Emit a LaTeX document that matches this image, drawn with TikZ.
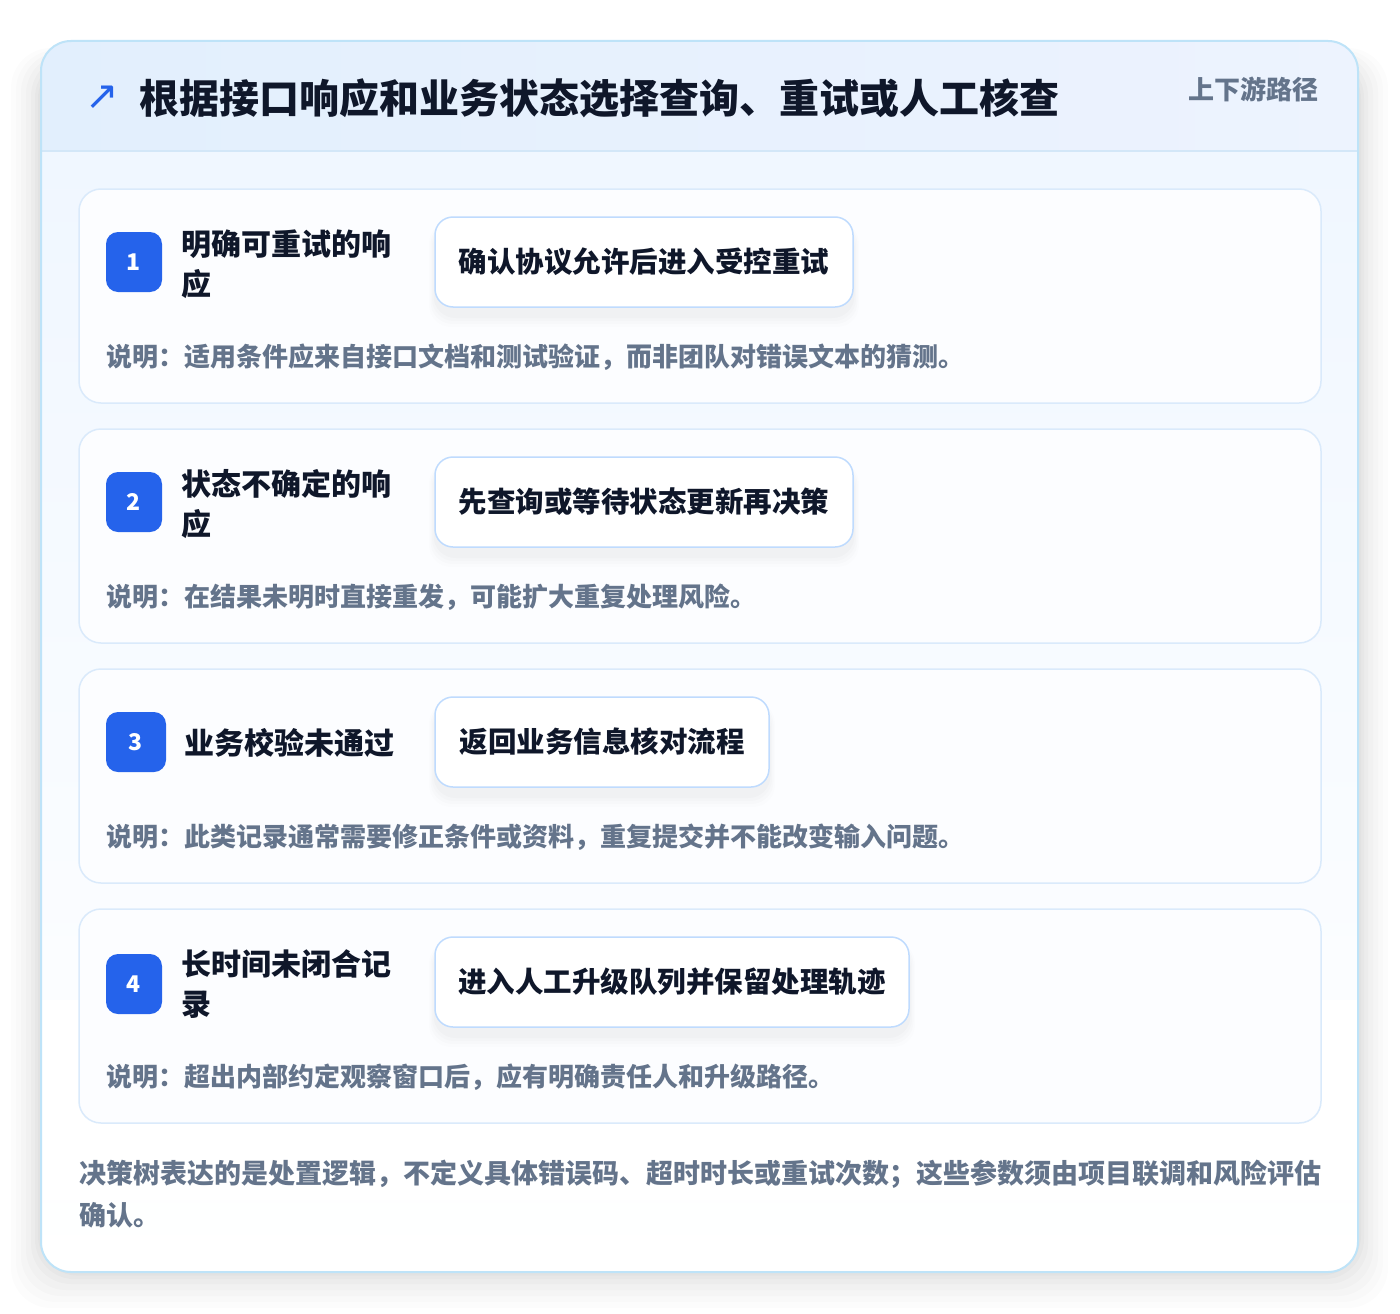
\documentclass[tikz,border=0pt]{standalone}
\usepackage{fontspec}
\setmainfont{Noto Sans CJK SC}
\newfontfamily\dejavu{DejaVu Sans}
\usetikzlibrary{shadows,fadings}
\definecolor{outerborder}{HTML}{BEE3F8}
\definecolor{headA}{HTML}{E2EFFD}
\definecolor{headB}{HTML}{EDF3FE}
\definecolor{headline}{HTML}{D3E7F8}
\definecolor{bodytop}{HTML}{F0F7FF}
\definecolor{cardfill}{HTML}{FCFDFF}
\definecolor{cardborder}{HTML}{DAEAFB}
\definecolor{badgeblue}{HTML}{2563EB}
\definecolor{actborder}{HTML}{BFDBFE}
\definecolor{darktext}{HTML}{0F172A}
\definecolor{greytext}{HTML}{64748B}
\tikzset{
  x=1pt,y=-1pt,
  card/.style={draw=cardborder,line width=1.5pt,fill=cardfill,rounded corners=22pt},
  badge/.style={fill=badgeblue,rounded corners=12pt,text=white,font=\fontsize{23}{24}\selectfont\bfseries,inner sep=0pt},
  label/.style={anchor=west,align=left,inner sep=0pt,text=darktext,font=\fontsize{30}{40}\selectfont\bfseries},
  action/.style={draw=actborder,line width=1.5pt,fill=white,rounded corners=18pt,text=darktext,font=\fontsize{28.5}{34}\selectfont\bfseries,inner sep=0pt},
  actshadow/.style={fill=black,rounded corners=22pt},
  desc/.style={anchor=west,inner sep=0pt,text=greytext,font=\fontsize{26}{34}\selectfont\bfseries},
}
\newcommand{\softshadow}[4]{% x1,y1,x2,y2
  \foreach \i/\o in {12/0.008,9/0.010,6/0.012,3/0.014}{
    \fill[black,opacity=\o,rounded corners=22pt] (#1-\i*0.5,#2+8-\i*0.3) rectangle (#3+\i*0.5,#4+8+\i);
  }}
\begin{document}
\begin{tikzpicture}
\useasboundingbox (0,0) rectangle (1400,1314);
\fill[white] (0,0) rectangle (1400,1314);
% soft shadow of outer card
\foreach \i/\o in {30/0.010,25/0.012,20/0.014,15/0.016,10/0.018,6/0.02,3/0.02}{
  \fill[black,opacity=\o,rounded corners=40pt] (41-\i,60-\i*0.4) rectangle (1358+\i,1272+\i*1.2);
}
% outer card
\fill[white,rounded corners=30pt] (41,41) rectangle (1358,1272);
\shade[top color=bodytop,bottom color=white,rounded corners=30pt] (41,151) rectangle (1358,1272);
\fill[white] (41,1000) rectangle (1358,1200);
\shade[left color=headA,right color=headB,rounded corners=30pt] (41,41) rectangle (1358,180);
\fill[bodytop] (42,152) rectangle (1357,181);
\draw[headline,line width=1.5pt] (41,151) -- (1358,151);
\draw[outerborder,line width=2pt,rounded corners=30pt] (41,41) rectangle (1358,1272);
% header
\node[anchor=center,text=badgeblue,font=\dejavu\fontsize{40}{40}\selectfont] (icon) at (102,98) {↗};
\node[anchor=west,inner sep=0pt,text=darktext,font=\fontsize{40}{44}\selectfont\bfseries] (title) at (139,98) {根据接口响应和业务状态选择查询、重试或人工核查};
\node[anchor=east,inner sep=0pt,text=greytext,font=\fontsize{26}{30}\selectfont\bfseries] (tag) at (1319,89) {上下游路径};
% cards
\foreach \n/\t in {c1/189,c2/429,c3/669,c4/909}{
  \draw[card] (79,\t) rectangle (1321,\t+214);
}
% action shadows
\softshadow{435}{217}{853}{307}
\softshadow{435}{457}{853}{547}
\softshadow{435}{697}{769}{787}
\softshadow{435}{937}{909}{1027}
% card 1
\node[badge,minimum width=56pt,minimum height=60pt] (b1) at (134,262) {1};
\node[label] (l1) at (181,264) {明确可重试的响\\应};
\node[action,minimum width=418pt,minimum height=90pt] (a1) at (644,262) {确认协议允许后进入受控重试};
\node[desc] (d1) at (106,357) {说明：适用条件应来自接口文档和测试验证，而非团队对错误文本的猜测。};
% card 2
\node[badge,minimum width=56pt,minimum height=60pt] (b2) at (134,502) {2};
\node[label] (l2) at (181,504) {状态不确定的响\\应};
\node[action,minimum width=418pt,minimum height=90pt] (a2) at (644,502) {先查询或等待状态更新再决策};
\node[desc] (d2) at (106,597) {说明：在结果未明时直接重发，可能扩大重复处理风险。};
% card 3
\node[badge,minimum width=60pt,minimum height=60pt] (b3) at (136,742) {3};
\node[label] (l3) at (184,743) {业务校验未通过};
\node[action,minimum width=334pt,minimum height=90pt] (a3) at (602,742) {返回业务信息核对流程};
\node[desc] (d3) at (106,837) {说明：此类记录通常需要修正条件或资料，重复提交并不能改变输入问题。};
% card 4
\node[badge,minimum width=56pt,minimum height=60pt] (b4) at (134,984) {4};
\node[label] (l4) at (181,984) {长时间未闭合记\\录};
\node[action,minimum width=474pt,minimum height=90pt] (a4) at (672,982) {进入人工升级队列并保留处理轨迹};
\node[desc] (d4) at (106,1077) {说明：超出内部约定观察窗口后，应有明确责任人和升级路径。};
% footer
\node[anchor=north west,align=left,inner sep=0pt,text=greytext,font=\fontsize{27}{42}\selectfont\bfseries] (foot) at (79,1160) {决策树表达的是处置逻辑，不定义具体错误码、超时时长或重试次数；这些参数须由项目联调和风险评估\\确认。};
\end{tikzpicture}
\end{document}
